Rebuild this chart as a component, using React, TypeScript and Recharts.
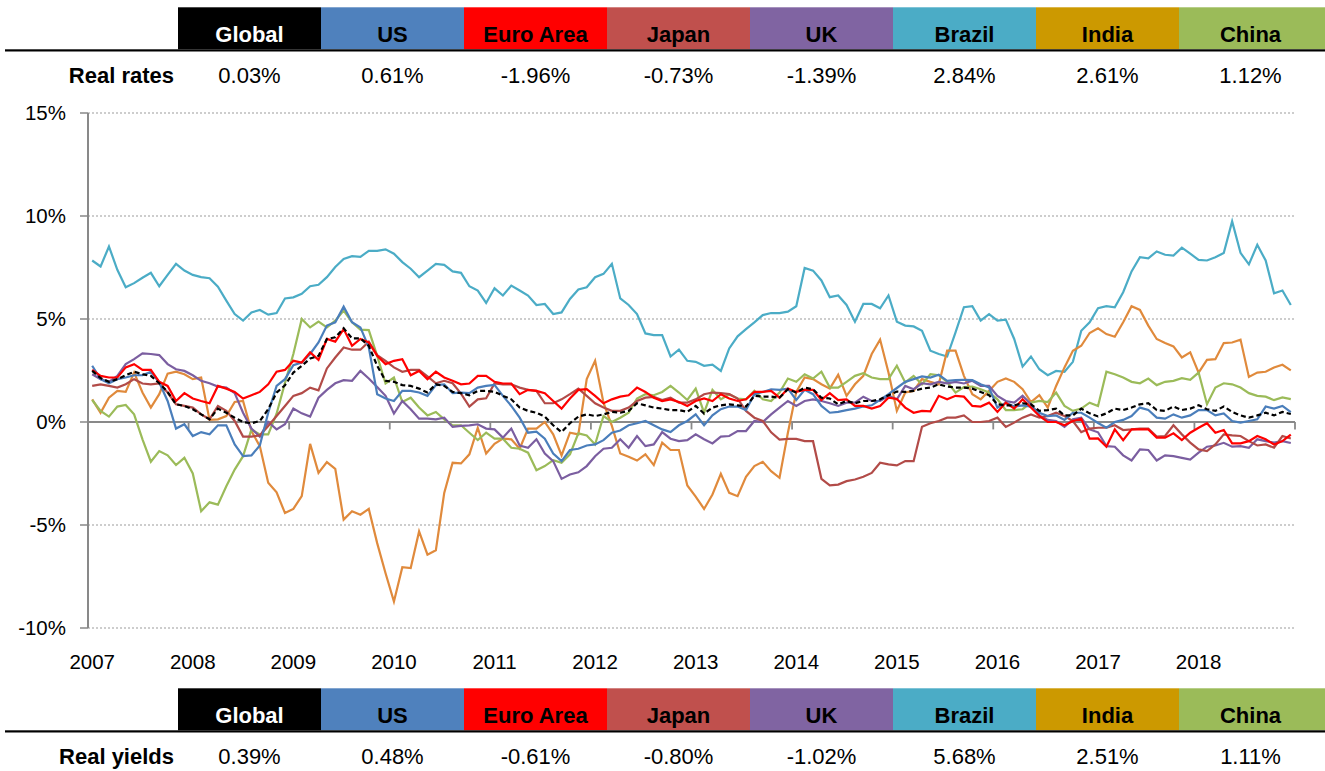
import React from 'react';
import { LineChart, Line, XAxis, YAxis, CartesianGrid, ReferenceLine } from 'recharts';

const REGIONS = ['Global', 'US', 'Euro Area', 'Japan', 'UK', 'Brazil', 'India', 'China'];
const HEADER_BG = ['#000000', '#4F81BD', '#FF0000', '#C0504D', '#8064A2', '#4BACC6', '#CC9900', '#9BBB59'];
const HEADER_FG = ['#FFFFFF', '#000000', '#000000', '#000000', '#000000', '#000000', '#000000', '#000000'];
const REAL_RATES = ['0.03%', '0.61%', '-1.96%', '-0.73%', '-1.39%', '2.84%', '2.61%', '1.12%'];
const REAL_YIELDS = ['0.39%', '0.48%', '-0.61%', '-0.80%', '-1.02%', '5.68%', '2.51%', '1.11%'];

const YEARS = [2007, 2008, 2009, 2010, 2011, 2012, 2013, 2014, 2015, 2016, 2017, 2018];
const Y_TICKS = [-10, -5, 0, 5, 10, 15];

const GLOBAL = [
  2.48, 2.13, 1.95, 2.08, 2.27, 2.44, 2.32, 2.24, 1.88, 1.46, 0.86, 0.78,
  0.62, 0.37, 0.13, 0.65, 0.45, 0.21, 0.0, -0.06, 0.05, 0.62, 1.43, 1.78,
  2.40, 2.73, 3.08, 3.21, 4.03, 4.11, 4.55, 4.06, 4.06, 3.70, 2.73, 2.00,
  1.95, 1.79, 1.75, 1.62, 1.43, 1.83, 1.75, 1.46, 1.40, 1.30, 1.51, 1.51,
  1.47, 1.27, 1.10, 0.70, 0.54, 0.45, 0.26, -0.16, -0.49, -0.06, 0.26, 0.37,
  0.29, 0.37, 0.49, 0.45, 0.54, 0.91, 0.81, 0.70, 0.65, 0.58, 0.58, 0.49,
  0.78, 0.41, 0.70, 0.81, 0.86, 0.81, 0.75, 1.27, 1.23, 1.23, 1.18, 1.59,
  1.43, 1.67, 1.59, 1.18, 1.14, 0.86, 1.02, 0.91, 1.02, 1.02, 1.10, 1.30,
  1.48, 1.46, 1.51, 1.62, 1.67, 1.83, 1.72, 1.67, 1.67, 1.62, 1.46, 1.30,
  0.86, 0.81, 0.81, 0.91, 0.86, 0.54, 0.58, 0.65, 0.32, 0.32, 0.65, 0.42,
  0.27, 0.42, 0.65, 0.58, 0.70, 0.86, 0.91, 0.58, 0.54, 0.75, 0.58, 0.65,
  0.81, 0.62, 0.54, 0.75, 0.49, 0.32, 0.21, 0.32, 0.45, 0.32, 0.49, 0.39,
];

const US = [
  2.73, 2.08, 1.88, 2.08, 2.16, 2.27, 2.27, 2.44, 1.92, 1.02, -0.32, -0.11,
  -0.68, -0.49, -0.60, -0.16, -0.16, -1.09, -1.66, -1.62, -1.14, 0.45, 1.75, 2.08,
  2.76, 2.89, 3.30, 3.86, 4.68, 4.84, 5.60, 4.84, 4.59, 3.62, 1.35, 1.14,
  1.02, 1.51, 1.51, 1.43, 1.27, 1.79, 1.83, 1.40, 1.43, 1.40, 1.67, 1.75,
  1.80, 1.27, 0.78, 0.21, -0.52, -0.47, -0.81, -1.53, -1.90, -1.36, -1.30, -1.14,
  -1.09, -0.88, -0.52, -0.41, -0.16, -0.06, 0.05, -0.16, -0.36, -0.49, -0.16, 0.05,
  0.37, -0.16, 0.32, 0.62, 0.75, 0.75, 0.58, 1.35, 1.46, 1.59, 1.56, 1.62,
  1.07, 1.56, 1.35, 0.78, 0.45, 0.49, 0.58, 0.65, 0.75, 0.81, 1.07, 1.35,
  1.65, 1.95, 2.08, 2.21, 2.16, 2.29, 2.00, 2.03, 2.05, 2.03, 1.83, 1.67,
  0.70, 0.94, 0.75, 0.81, 0.75, 0.45, 0.29, 0.32, 0.10, 0.45, 0.45, 0.21,
  -0.05, -0.28, 0.0, 0.10, 0.29, 0.70, 0.58, 0.21, 0.16, 0.37, 0.21, 0.32,
  0.58, 0.58, 0.32, 0.42, 0.05, -0.03, 0.05, 0.13, 0.75, 0.65, 0.78, 0.48,
];

const EURO = [
  2.53, 2.24, 2.16, 2.16, 2.65, 2.81, 2.53, 2.53, 1.95, 1.75, 1.02, 1.40,
  1.14, 1.02, 0.91, 1.75, 1.62, 1.46, 1.14, 1.30, 1.46, 1.83, 2.44, 2.53,
  2.97, 2.89, 3.38, 3.02, 4.03, 3.90, 4.51, 3.70, 4.03, 3.86, 3.21, 2.81,
  2.97, 3.05, 2.27, 2.48, 2.08, 2.44, 2.16, 2.00, 1.83, 1.87, 2.24, 2.24,
  1.95, 1.87, 1.87, 1.35, 1.56, 1.51, 1.40, 1.02, 0.65, 1.14, 1.56, 1.59,
  1.27, 0.91, 1.10, 1.23, 1.30, 1.67, 1.46, 1.18, 1.02, 1.10, 0.97, 0.78,
  1.02, 1.14, 1.02, 1.35, 1.14, 1.02, 1.10, 1.46, 1.46, 1.51, 1.18, 1.62,
  1.46, 1.56, 1.56, 1.07, 1.40, 1.06, 1.10, 0.78, 0.78, 0.65, 0.78, 1.18,
  1.12, 0.70, 0.45, 0.54, 0.52, 1.27, 1.10, 1.27, 1.23, 0.78, 0.75, 0.94,
  0.49, 0.94, 0.65, 1.10, 0.70, 0.29, 0.0, 0.0, -0.16, 0.05, 0.16, -0.81,
  -0.80, -1.20, -0.36, -0.88, -0.36, -0.36, -0.36, -0.76, -0.76, -0.55, -0.88, -0.52,
  -0.28, -0.06, -0.52, -0.39, -1.04, -1.04, -0.93, -0.68, -0.84, -1.09, -0.93, -0.61,
];

const JAPAN = [
  1.75, 1.83, 1.75, 1.67, 1.83, 2.08, 1.87, 1.83, 1.87, 1.43, 0.86, 0.78,
  0.70, 0.37, 0.13, 0.78, 0.54, 0.05, -0.71, -0.71, -0.65, -0.19, 0.29, 0.78,
  1.27, 1.40, 1.67, 1.54, 2.60, 3.13, 3.62, 3.51, 3.51, 3.90, 3.25, 2.97,
  2.65, 2.44, 2.53, 2.53, 2.21, 1.88, 2.00, 1.88, 1.38, 0.75, 1.10, 1.15,
  1.87, 1.83, 1.83, 1.67, 1.56, 1.51, 0.91, 0.91, 1.10, 1.35, 1.62, 1.27,
  0.91, 0.70, 0.54, 0.54, 0.70, 1.02, 1.18, 1.22, 1.07, 1.18, 0.94, 0.94,
  1.10, 1.35, 1.43, 1.40, 1.35, 1.14, 0.54, 0.21, 0.05, -0.50, -0.85, -0.82,
  -0.82, -0.93, -0.93, -2.76, -3.08, -3.04, -2.87, -2.79, -2.66, -2.47, -1.98, -2.06,
  -2.11, -1.90, -1.90, -0.23, -0.06, 0.05, 0.21, 0.21, 0.32, 0.0, 0.0, 0.05,
  0.21, -0.24, -0.03, 0.21, 0.37, 0.21, 0.29, 0.45, 0.29, 0.05, -0.49, -0.32,
  -0.28, -0.28, -0.16, -0.39, -0.36, -0.32, -0.32, -0.71, -0.68, -0.16, -0.60, -1.00,
  -1.33, -1.41, -1.09, -0.60, -0.65, -0.68, -0.93, -1.14, -1.09, -1.25, -0.68, -0.80,
];

const UK = [
  2.32, 2.08, 1.95, 2.24, 2.81, 3.05, 3.33, 3.30, 3.25, 2.81, 2.56, 2.48,
  2.27, 2.00, 1.88, 1.72, 1.67, 1.40, 0.45, -0.32, -0.71, 0.0, -0.36, -0.11,
  0.65, 0.42, 0.26, 1.18, 1.56, 1.88, 2.03, 2.00, 2.48, 2.11, 1.70, 1.27,
  0.41, 1.02, 0.62, 0.16, 0.16, 0.13, 0.21, -0.24, -0.19, -0.16, -0.11, -0.32,
  -0.36, -0.76, -0.32, -1.14, -1.25, -0.84, -1.53, -1.90, -2.76, -2.55, -2.44, -2.14,
  -1.66, -1.30, -1.25, -0.84, -1.25, -0.68, -1.17, -1.09, -0.49, -0.81, -0.93, -0.88,
  -0.60, -0.84, -1.04, -0.71, -0.68, -0.44, -0.44, 0.05, 0.0, 0.37, 0.70, 1.02,
  0.78, 1.02, 1.10, 1.02, 0.91, 0.78, 0.94, 0.94, 1.23, 1.02, 1.02, 1.27,
  1.10, 1.75, 1.59, 1.88, 1.83, 1.95, 1.88, 1.95, 1.87, 2.00, 1.75, 1.75,
  1.27, 1.02, 0.94, 1.27, 0.86, 0.32, 0.10, 0.05, -0.23, 0.13, 0.21, -0.36,
  -0.50, -1.17, -1.20, -1.62, -1.87, -1.33, -1.36, -1.87, -1.62, -1.66, -1.74, -1.82,
  -1.49, -1.20, -1.14, -1.01, -1.20, -1.17, -1.25, -0.84, -0.93, -1.00, -0.93, -1.02,
];

const BRAZIL = [
  7.84, 7.55, 8.52, 7.39, 6.54, 6.74, 7.00, 7.24, 6.59, 7.14, 7.68, 7.35,
  7.14, 7.03, 6.98, 6.57, 5.89, 5.24, 4.92, 5.32, 5.44, 5.21, 5.29, 6.00,
  6.05, 6.22, 6.59, 6.66, 7.03, 7.52, 7.92, 8.05, 8.02, 8.31, 8.31, 8.38,
  8.17, 7.76, 7.44, 7.03, 7.35, 7.68, 7.63, 7.31, 7.24, 6.59, 6.38, 5.78,
  6.49, 6.14, 6.62, 6.38, 6.14, 5.68, 5.73, 5.24, 5.32, 5.97, 6.43, 6.54,
  7.03, 7.19, 7.68, 6.00, 5.68, 5.24, 4.30, 4.22, 4.22, 3.18, 3.51, 2.97,
  2.92, 2.73, 2.78, 2.48, 3.57, 4.16, 4.51, 4.84, 5.19, 5.29, 5.29, 5.36,
  5.62, 7.48, 7.35, 6.87, 6.06, 6.14, 5.68, 4.87, 5.73, 5.73, 5.52, 6.14,
  4.87, 4.68, 4.64, 4.43, 3.46, 3.30, 3.18, 4.35, 5.57, 5.62, 4.92, 5.24,
  4.92, 4.97, 4.03, 2.69, 3.18, 2.56, 2.27, 2.48, 2.44, 2.92, 4.43, 4.84,
  5.52, 5.62, 5.57, 6.30, 7.31, 8.00, 7.95, 8.28, 8.12, 8.08, 8.46, 8.17,
  7.87, 7.84, 8.00, 8.20, 9.74, 8.21, 7.65, 8.60, 7.84, 6.25, 6.38, 5.68,
];

const INDIA = [
  1.10, 0.45, 1.18, 1.51, 1.46, 2.40, 1.43, 0.70, 1.35, 2.35, 2.44, 2.32,
  2.08, 2.16, 0.10, 0.13, 0.29, 0.97, 1.02, -0.44, -1.17, -2.95, -3.41, -4.42,
  -4.22, -3.60, -1.06, -2.47, -1.95, -2.27, -4.74, -4.33, -4.50, -4.22, -5.88, -7.34,
  -8.72, -7.05, -7.09, -5.31, -6.44, -6.23, -3.44, -1.98, -2.01, -1.57, -0.28, -1.53,
  -1.06, -0.81, -0.84, -1.30, -0.32, -0.32, 0.0, -0.60, -1.62, -0.52, -0.60, 2.08,
  2.97, 0.94, -0.19, -1.53, -1.69, -1.87, -1.57, -2.09, -1.00, -1.36, -1.36, -3.08,
  -3.62, -4.22, -3.52, -2.52, -3.44, -3.60, -2.66, -2.14, -1.93, -2.39, -2.71, -0.52,
  1.46, 2.16, 2.08, 1.83, 1.62, 2.29, 1.27, 1.83, 2.24, 3.30, 4.00, 2.40,
  0.54, 1.43, 1.51, 2.08, 1.95, 1.83, 3.46, 3.46, 2.24, 1.35, 1.10, 1.51,
  1.95, 2.11, 1.95, 1.59, 0.97, 1.30, 0.70, 1.75, 2.65, 3.46, 3.70, 4.32,
  4.55, 4.27, 4.14, 4.84, 5.62, 5.44, 4.68, 4.03, 3.83, 3.67, 3.13, 3.38,
  2.40, 3.02, 3.05, 3.83, 3.86, 4.00, 2.19, 2.40, 2.44, 2.65, 2.78, 2.51,
];

const CHINA = [
  1.07, 0.54, 0.26, 0.75, 0.83, 0.37, -0.84, -1.93, -1.41, -1.62, -2.09, -1.74,
  -2.50, -4.33, -3.90, -4.01, -3.12, -2.31, -1.66, -0.36, -0.60, -0.60, 0.40, 1.90,
  3.30, 5.00, 4.59, 4.87, 4.59, 4.92, 5.41, 4.84, 4.48, 4.46, 3.21, 1.87,
  2.16, 0.97, 1.18, 0.70, 0.32, 0.49, 0.13, -0.16, -0.16, -0.52, -0.88, -0.52,
  -0.81, -0.81, -1.25, -1.30, -1.49, -2.34, -2.14, -1.85, -1.98, -1.57, -0.55, -0.65,
  -1.09, 0.29, 0.0, 0.21, 0.45, 1.14, 1.35, 1.30, 1.46, 1.75, 1.43, 1.07,
  1.62, 0.45, 1.56, 1.10, 1.35, 1.14, 1.10, 1.51, 1.10, 1.02, 1.43, 2.11,
  1.95, 2.32, 2.11, 2.44, 1.67, 1.67, 1.95, 2.24, 2.37, 2.16, 2.08, 2.08,
  2.73, 1.92, 2.24, 1.83, 2.32, 2.27, 1.95, 1.43, 1.70, 1.72, 1.59, 1.43,
  1.10, 0.58, 0.58, 0.62, 0.94, 1.02, 0.97, 1.43, 0.78, 0.54, 0.65, 0.94,
  0.78, 2.44, 2.32, 2.16, 1.95, 1.88, 2.11, 1.79, 1.95, 2.00, 2.13, 2.05,
  2.40, 0.86, 1.67, 1.88, 1.83, 1.67, 1.40, 1.27, 1.23, 1.06, 1.19, 1.11,
];

const SERIES = [
  { key: 'br', values: BRAZIL, color: '#4BACC6', dash: undefined },
  { key: 'in', values: INDIA, color: '#E08A3C', dash: undefined },
  { key: 'cn', values: CHINA, color: '#9BBB59', dash: undefined },
  { key: 'uk', values: UK, color: '#7B5EA0', dash: undefined },
  { key: 'jp', values: JAPAN, color: '#B24B48', dash: undefined },
  { key: 'us', values: US, color: '#4A7EBB', dash: undefined },
  { key: 'ea', values: EURO, color: '#FF0000', dash: undefined },
  { key: 'gl', values: GLOBAL, color: '#000000', dash: '5 3' },
];

const MONTHS_PER_YEAR = 12;
const N = YEARS.length * MONTHS_PER_YEAR;

const data = Array.from({ length: N }, (_, i) => {
  const row: Record<string, number> = { x: i + 0.5 };
  SERIES.forEach((s) => {
    row[s.key] = s.values[i];
  });
  return row;
});

const labelTicks = YEARS.map((_, k) => k * MONTHS_PER_YEAR + 0.5);
const boundaryTicks = Array.from({ length: YEARS.length }, (_, k) => (k + 1) * MONTHS_PER_YEAR);

const FONT = "'Liberation Sans', Arial, Helvetica, sans-serif";
const AXIS_GREY = '#898989';

const COL_X0 = 178;
const COL_W = 143;

function Table({ top, label, values }: { top: number; label: string; values: string[] }) {
  return (
    <svg
      width={1325}
      height={90}
      style={{ position: 'absolute', left: 0, top, overflow: 'visible' }}
    >
      {REGIONS.map((r, i) => (
        <g key={r}>
          <rect
            x={COL_X0 + i * COL_W}
            y={7.3}
            width={i === REGIONS.length - 1 ? 1325 - (COL_X0 + i * COL_W) : COL_W}
            height={42}
            fill={HEADER_BG[i]}
          />
          <text
            x={COL_X0 + i * COL_W + COL_W / 2}
            y={41.7}
            textAnchor="middle"
            fontFamily={FONT}
            fontWeight="bold"
            fontSize={22}
            fill={HEADER_FG[i]}
          >
            {r}
          </text>
          <text
            x={COL_X0 + i * COL_W + COL_W / 2}
            y={82.7}
            textAnchor="middle"
            fontFamily={FONT}
            fontSize={22}
            fill="#000"
          >
            {values[i]}
          </text>
        </g>
      ))}
      <rect x={5} y={49.3} width={1320} height={2.2} fill="#000" />
      <text x={174} y={82.7} textAnchor="end" fontFamily={FONT} fontWeight="bold" fontSize={22} fill="#000">
        {label}
      </text>
    </svg>
  );
}

const YearTick = (props: any) => {
  const { x, y, payload } = props;
  const idx = Math.floor(payload.value / MONTHS_PER_YEAR);
  return (
    <text x={x} y={y + 41} textAnchor="middle" fontFamily={FONT} fontSize={20.5} fill="#000">
      {YEARS[idx]}
    </text>
  );
};

export default function App() {
  return (
    <div style={{ position: 'absolute', left: 0, top: 0, width: 1325, height: 771, background: '#fff', overflow: 'hidden' }}>
      <div style={{ position: 'absolute', left: 0, top: 0 }}>
        <LineChart
          width={1325}
          height={700}
          data={data}
          margin={{ top: 113, right: 30, bottom: 22, left: 18 }}
        >
          <CartesianGrid vertical={false} stroke="#BDBDBD" strokeDasharray="2 2" strokeWidth={1.3} />
          <XAxis
            dataKey="x"
            type="number"
            domain={[0, N]}
            ticks={labelTicks}
            interval={0}
            axisLine={false}
            tickLine={false}
            tickSize={0}
            tickMargin={0}
            height={50}
            tick={YearTick}
          />
          <YAxis
            type="number"
            domain={[-10, 15]}
            ticks={Y_TICKS}
            interval={0}
            width={70}
            tickFormatter={(v: number) => `${v}%`}
            axisLine={{ stroke: AXIS_GREY, strokeWidth: 2 }}
            tickLine={{ stroke: AXIS_GREY, strokeWidth: 1.5 }}
            tickSize={8}
            tickMargin={14}
            tick={{ fill: '#000', fontSize: 20.5, fontFamily: FONT }}
          />
          <ReferenceLine y={0} stroke={AXIS_GREY} strokeWidth={2} />
          {boundaryTicks.map((b) => (
            <ReferenceLine
              key={b}
              segment={[{ x: b, y: 0 }, { x: b, y: -0.36 }]}
              stroke={AXIS_GREY}
              strokeWidth={1.8}
            />
          ))}
          {SERIES.map((s) => (
            <Line
              key={s.key}
              dataKey={s.key}
              type="linear"
              stroke={s.color}
              strokeWidth={2.2}
              strokeDasharray={s.dash}
              dot={false}
              activeDot={false}
              isAnimationActive={false}
            />
          ))}
        </LineChart>
      </div>
      <Table top={0} label="Real rates" values={REAL_RATES} />
      <Table top={681} label="Real yields" values={REAL_YIELDS} />
    </div>
  );
}
